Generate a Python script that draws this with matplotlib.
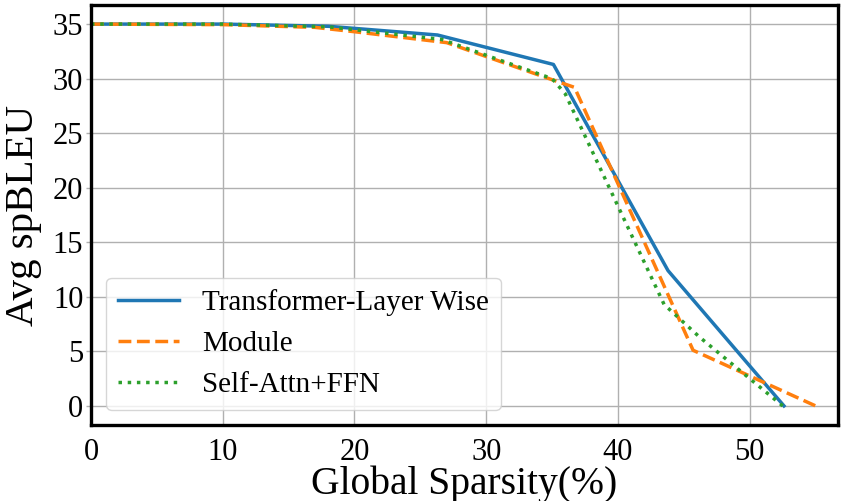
import numpy as np
import matplotlib.pyplot as plt

plt.rcParams['font.family'] = ['Liberation Serif', 'DejaVu Serif']

x_layer = [0, 10, 18, 26.3, 35.1, 43.8, 52.6]
y_layer = [35.0, 35.0, 34.8, 34.0, 31.3, 12.4, 0.0]

x_module = [0, 10, 17, 20, 27, 35, 36.7, 45.7, 55.0]
y_module = [35.0, 34.95, 34.7, 34.3, 33.3, 29.9, 29.2, 5.1, 0.0]

x_attn = [0, 10, 18, 26.6, 35.0, 36.0, 43.5, 46.2, 52.5]
y_attn = [35.0, 35.0, 34.75, 33.6, 30.0, 28.6, 9.3, 6.3, 0.0]

labels = ['Transformer-Layer Wise', 'Module', 'Self-Attn+FFN']

fig = plt.figure(figsize=(8.42, 5.01), dpi=100)
ax = fig.add_axes([91/842, 76/501, 747/842, 420/501])

ax.plot(x_layer, y_layer, color='#1f77b4', lw=2.5, ls='-', label=labels[0])
ax.plot(x_module, y_module, color='#ff7f0e', lw=2.5, ls='--', label=labels[1])
ax.plot(x_attn, y_attn, color='#2ca02c', lw=2.5, ls=':', label=labels[2])

ax.set_xlim(0, 56.7)
ax.set_ylim(-1.75, 36.75)
ax.set_xticks(np.arange(0, 51, 10))
ax.set_yticks(np.arange(0, 36, 5))
ax.grid(True, color='#b0b0b0', lw=1)
ax.set_axisbelow(True)
for s in ax.spines.values():
    s.set_linewidth(2.4)
    s.set_color('black')
ax.tick_params(labelsize=22, color='#b0b0b0', width=1)
ax.tick_params(axis='y', length=3.5, pad=2)
ax.tick_params(axis='x', length=0, pad=9)
ax.set_xlabel('Global Sparsity(%)', fontsize=28.5, labelpad=-1)
ax.set_ylabel('Avg spBLEU', fontsize=29.5, labelpad=8)
ax.legend(loc='lower left', bbox_to_anchor=(0.02, 0.036), borderaxespad=0,
          fontsize=21, handlelength=2.1, framealpha=0.8, edgecolor='#cccccc')

plt.savefig('out.png', dpi=100)
